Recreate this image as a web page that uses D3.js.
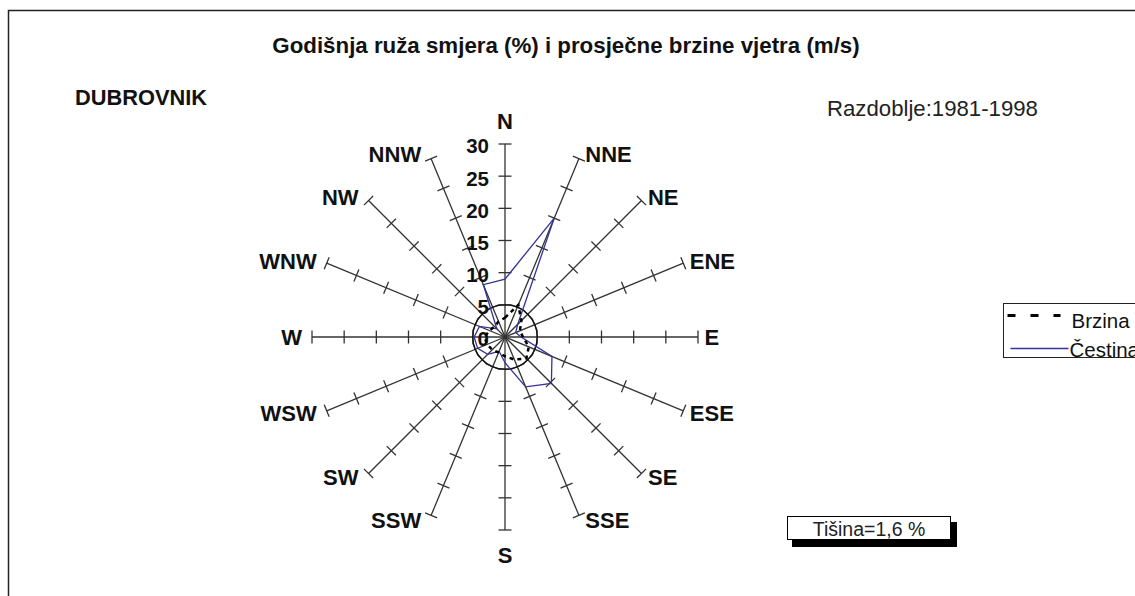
<!DOCTYPE html>
<html>
<head>
<meta charset="utf-8">
<script src="https://cdn.jsdelivr.net/npm/d3@7"></script>
<style>
	body { margin: 0; background: #fff; }
	svg { display: block; font-family: 'Liberation Sans', Arial, sans-serif; }
</style>
</head>
<body>
<div id="chart"></div>
<script>
// 16 wind directions, clockwise from north
let directions = ['N', 'NNE', 'NE', 'ENE', 'E', 'ESE', 'SE', 'SSE', 'S', 'SSW', 'SW', 'WSW', 'W', 'WNW', 'NW', 'NNW']
// frequency (%) per direction
let frequency = [9.0, 20.0, 2.8, 1.8, 2.5, 7.9, 10.2, 8.4, 4.0, 2.4, 3.8, 4.6, 4.8, 4.3, 1.8, 8.8]
// mean speed (m/s) per direction
let speed = [3.0, 5.4, 3.6, 2.5, 2.8, 4.0, 4.7, 3.8, 3.0, 2.6, 2.8, 3.0, 3.2, 2.6, 2.3, 2.6]
let radialTicks = [0, 5, 10, 15, 20, 25, 30]
let seriesNames = ['Brzina', 'Čestina']

let width = 1135
let height = 596
let cx = 505
let cy = 337
let tickHalf = 6.5

let svg = d3
	.select('#chart')
	.append('svg')
	.attr('width', width)
	.attr('height', height)

// outer frame, runs off the right and bottom edge
svg
	.append('rect')
	.attr('x', 8.5)
	.attr('y', 10.5)
	.attr('width', 1300)
	.attr('height', 700)
	.attr('fill', 'none')
	.attr('stroke', '#222')
	.attr('stroke-width', 1.5)

svg
	.append('text')
	.attr('x', 566)
	.attr('y', 53)
	.attr('text-anchor', 'middle')
	.attr('font-size', 22.3)
	.attr('font-weight', 'bold')
	.attr('fill', '#111')
	.text('Godišnja ruža smjera (%) i prosječne brzine vjetra (m/s)')

svg
	.append('text')
	.attr('x', 75)
	.attr('y', 105)
	.attr('font-size', 21.8)
	.attr('font-weight', 'bold')
	.attr('fill', '#111')
	.text('DUBROVNIK')

svg
	.append('text')
	.attr('x', 827)
	.attr('y', 116)
	.attr('font-size', 22.2)
	.attr('fill', '#222')
	.text('Razdoblje:1981-1998')

let r = d3.scaleLinear().domain([0, 30]).range([0, 193])
let angle = i => (i * 2 * Math.PI) / directions.length

let rose = svg.append('g').attr('transform', `translate(${cx},${cy})`)

// spokes with cross ticks
directions.forEach((dir, i) => {
	let g = rose.append('g').attr('transform', `rotate(${(angle(i) * 180) / Math.PI})`)
	g.append('line')
		.attr('x1', 0)
		.attr('y1', 0)
		.attr('x2', 0)
		.attr('y2', -r(30))
		.attr('stroke', '#333')
		.attr('stroke-width', 1.3)
	g.selectAll('line.tick')
		.data(radialTicks.slice(1))
		.enter()
		.append('line')
		.attr('class', 'tick')
		.attr('x1', -tickHalf)
		.attr('x2', tickHalf)
		.attr('y1', d => -r(d))
		.attr('y2', d => -r(d))
		.attr('stroke', '#333')
		.attr('stroke-width', 1.3)
})

// direction labels at the spoke ends
directions.forEach((dir, i) => {
	let a = angle(i)
	let ex = Math.sin(a) * r(30)
	let ey = -Math.cos(a) * r(30)
	let sx = Math.round(Math.sin(a) * 1000) / 1000
	let anchor = sx > 0 ? 'start' : sx < 0 ? 'end' : 'middle'
	let dx = sx > 0 ? 6.5 : sx < 0 ? -10 : 0
	let dy = sx === 0 ? (ey < 0 ? -23 : 25) : -Math.cos(a) * 5
	rose
		.append('text')
		.attr('x', ex + dx)
		.attr('y', ey + dy)
		.attr('dy', '0.36em')
		.attr('text-anchor', anchor)
		.attr('font-size', 22)
		.attr('font-weight', 'bold')
		.attr('fill', '#111')
		.text(dir)
})

// inner ring
rose
	.append('circle')
	.attr('r', r(5))
	.attr('fill', 'none')
	.attr('stroke', '#111')
	.attr('stroke-width', 1.3)

// radial scale labels along N spoke
rose
	.selectAll('text.rlabel')
	.data(radialTicks)
	.enter()
	.append('text')
	.attr('class', 'rlabel')
	.attr('x', -16)
	.attr('y', d => -r(d) + 2)
	.attr('dy', '0.36em')
	.attr('text-anchor', 'end')
	.attr('font-size', 20.5)
	.attr('font-weight', 'bold')
	.attr('fill', '#111')
	.text(d => d)

let line = d3
	.lineRadial()
	.angle((d, i) => angle(i))
	.radius(d => r(d))
	.curve(d3.curveLinearClosed)

rose
	.append('path')
	.attr('d', line(frequency))
	.attr('fill', 'none')
	.attr('stroke', '#333399')
	.attr('stroke-width', 1.3)

rose
	.append('path')
	.attr('d', line(speed))
	.attr('fill', 'none')
	.attr('stroke', '#000')
	.attr('stroke-width', 2.5)
	.attr('stroke-dasharray', '4,4')

// legend box, cut off at the right edge
let legend = svg.append('g').attr('transform', 'translate(1003.5,303.5)')
legend
	.append('rect')
	.attr('width', 200)
	.attr('height', 54)
	.attr('fill', '#fff')
	.attr('stroke', '#222')
	.attr('stroke-width', 1)
legend
	.append('line')
	.attr('x1', 4)
	.attr('x2', 57)
	.attr('y1', 12)
	.attr('y2', 12)
	.attr('stroke', '#000')
	.attr('stroke-width', 3)
	.attr('stroke-dasharray', '8,15')
legend
	.append('line')
	.attr('x1', 7)
	.attr('x2', 65)
	.attr('y1', 45)
	.attr('y2', 45)
	.attr('stroke', '#333399')
	.attr('stroke-width', 1.3)
legend
	.selectAll('text.leg')
	.data(seriesNames)
	.enter()
	.append('text')
	.attr('class', 'leg')
	.attr('x', (d, i) => (i === 0 ? 68 : 66))
	.attr('y', (d, i) => (i === 0 ? 24 : 53))
	.attr('font-size', 20.5)
	.attr('fill', '#111')
	.text(d => d)

// calm box with drop shadow
svg
	.append('rect')
	.attr('x', 792)
	.attr('y', 522)
	.attr('width', 165)
	.attr('height', 25)
	.attr('fill', '#000')
svg
	.append('rect')
	.attr('x', 787.5)
	.attr('y', 516.5)
	.attr('width', 163)
	.attr('height', 23)
	.attr('fill', '#fff')
	.attr('stroke', '#000')
	.attr('stroke-width', 1)
svg
	.append('text')
	.attr('x', 869)
	.attr('y', 536)
	.attr('text-anchor', 'middle')
	.attr('font-size', 19.5)
	.attr('fill', '#222')
	.text('Tišina=1,6 %')
</script>
</body>
</html>
